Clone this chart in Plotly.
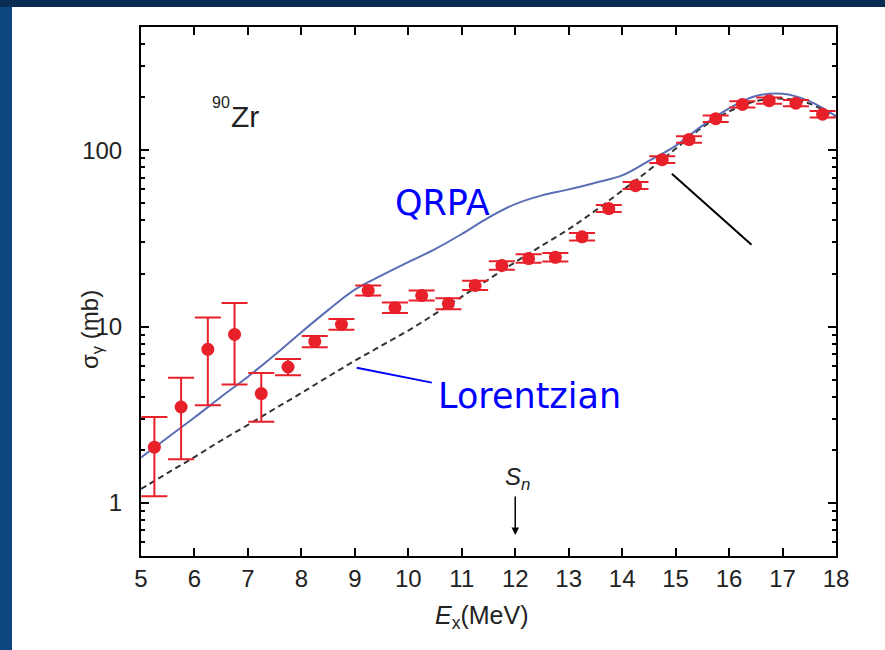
import plotly.graph_objects as go

# ---- data ----
x_exp = [5.25, 5.75, 6.25, 6.75, 7.25, 7.75, 8.25, 8.75, 9.25, 9.75, 10.25, 10.75, 11.25,
         11.75, 12.25, 12.75, 13.25, 13.75, 14.25, 14.75, 15.25, 15.75, 16.25, 16.75, 17.25, 17.75]
y_exp = [2.07, 3.50, 7.43, 9.03, 4.17, 5.90, 8.24, 10.3, 16.0, 12.8, 15.0, 13.5, 17.1,
         22.2, 24.3, 24.7, 32.3, 46.7, 63.0, 88.4, 115, 151, 182, 191, 185, 160]
err_up = [1.00, 1.63, 3.84, 4.57, 1.28, 0.64, 0.60, 0.75, 1.1, 0.9, 1.0, 1.0, 1.1,
          1.3, 1.4, 1.4, 1.6, 2.2, 3.0, 4.0, 5.0, 6.5, 7.5, 8.0, 7.8, 6.8]
err_dn = [0.98, 1.73, 3.85, 4.34, 1.28, 0.61, 0.60, 0.70, 1.0, 0.85, 0.95, 0.95, 1.0,
          1.2, 1.3, 1.3, 1.5, 2.1, 2.8, 3.8, 4.8, 6.2, 7.2, 7.6, 7.4, 6.5]

x_qrpa = [5.0, 5.5, 6.0, 6.5, 7.0, 7.5, 8.0, 8.5, 9.0, 9.5, 10.0, 10.5, 11.0, 11.5, 12.0,
          12.5, 13.0, 13.5, 14.0, 14.5, 15.0, 15.5, 16.0, 16.5, 17.0, 17.5, 18.0]
y_qrpa = [1.81, 2.35, 3.05, 4.0, 5.2, 6.9, 9.3, 12.4, 16.2, 19.5, 23.2, 27.5, 33.5, 41.5, 49.5,
          55.5, 60.0, 65.5, 72.0, 87.0, 106, 138, 173, 203, 209, 190, 156]

x_lor = [5.0, 5.5, 6.0, 6.5, 7.0, 7.5, 8.0, 8.5, 9.0, 9.5, 10.0, 10.5, 11.0, 11.5, 12.0,
         12.5, 13.0, 13.5, 14.0, 14.5, 15.0, 15.5, 16.0, 16.5, 17.0, 17.5, 18.0]
y_lor = [1.2, 1.48, 1.82, 2.26, 2.77, 3.42, 4.2, 5.2, 6.4, 7.8, 9.5, 11.8, 14.8, 18.5, 23.2,
         28.8, 35.7, 45.5, 59.0, 77.0, 102, 135, 166, 190, 196, 184, 155]

# pointer lines (data coordinates)
lor_ptr_x = [9.035, 10.44]
lor_ptr_y = [5.85, 4.81]
blk_ptr_x = [14.93, 16.42]
blk_ptr_y = [73.5, 29.1]

x_ticks = list(range(5, 19))
y_ticks = [1, 10, 100]
y_ticktext = ["1", "10", "100"]
y_minor = [0.6, 0.7, 0.8, 0.9, 2, 3, 4, 5, 6, 7, 8, 9, 20, 30, 40, 50, 60, 70, 80, 90, 200, 300, 400]

RED = "#e8202a"
QRPA_C = "#5a6db5"
TXT = "#222222"
BLUE = "#0000ff"

fig = go.Figure()

fig.add_trace(go.Scatter(x=x_lor, y=y_lor, mode="lines", line=dict(color="#333333", width=2, dash="6px,4px"),
                         line_shape="spline", showlegend=False, hoverinfo="skip"))
fig.add_trace(go.Scatter(x=x_qrpa, y=y_qrpa, mode="lines", line=dict(color=QRPA_C, width=2),
                         line_shape="spline", showlegend=False, hoverinfo="skip"))
fig.add_trace(go.Scatter(x=x_exp, y=y_exp, mode="markers",
                         marker=dict(color=RED, size=13),
                         error_y=dict(type="data", array=err_up, arrayminus=err_dn, symmetric=False,
                                      color=RED, thickness=2, width=13),
                         showlegend=False))
fig.add_trace(go.Scatter(x=lor_ptr_x, y=lor_ptr_y, mode="lines", line=dict(color=BLUE, width=2),
                         showlegend=False, hoverinfo="skip"))
fig.add_trace(go.Scatter(x=blk_ptr_x, y=blk_ptr_y, mode="lines", line=dict(color="black", width=2),
                         showlegend=False, hoverinfo="skip"))

L, R, T, B = 141, 836, 27, 556
W, H = 885, 650


def px(xp):
    return (xp - L) / (R - L)


def py(yp):
    return (B - yp) / (B - T)


shapes = [
    dict(type="rect", xref="paper", yref="paper", x0=px(0), x1=px(W), y0=py(H), y1=py(0),
         fillcolor="#0c4580", line=dict(width=0), layer="below"),
    dict(type="rect", xref="paper", yref="paper", x0=px(0), x1=px(W), y0=py(7), y1=py(0),
         fillcolor="#082c52", line=dict(width=0), layer="below"),
    dict(type="rect", xref="paper", yref="paper", x0=px(12), x1=px(W), y0=py(H), y1=py(7),
         fillcolor="white", line=dict(width=0), layer="below"),
]


def ann(text, x, y, size, color=TXT, family="Liberation Sans, Arial", **kw):
    d = dict(text=text, x=px(x), y=py(y), xref="paper", yref="paper", showarrow=False,
             xanchor="center", yanchor="middle", font=dict(family=family, size=size, color=color))
    d.update(kw)
    return d


annotations = [
    ann("Zr", 245, 116, 30),
    ann("90", 221, 102, 16),
    ann("QRPA", 442, 203, 35, color=BLUE, family="DejaVu Sans"),
    ann("Lorentzian", 529, 396, 35, color=BLUE, family="DejaVu Sans"),
    ann("<i>S</i><sub><i>n</i></sub>", 517, 478, 24),
    dict(text="", x=12, y=py(535), xref="x", yref="paper", showarrow=True, ax=0, ay=-40,
         arrowhead=2, arrowsize=1, arrowwidth=1.5, arrowcolor="black"),
    ann("σ<sub>γ</sub> (mb)", 92, 330, 24, textangle=-90),
    ann("<i>E</i><sub>x</sub>(MeV)", 482, 617, 25),
]

fig.update_layout(
    width=W, height=H,
    margin=dict(l=L, r=W - R, t=T, b=H - B, pad=0),
    paper_bgcolor="#0c4580",
    plot_bgcolor="white",
    shapes=shapes,
    annotations=annotations,
    xaxis=dict(range=[5, 18], tickvals=x_ticks, ticks="inside", ticklen=8, tickwidth=2,
               tickcolor="black", showline=True, linecolor="black", linewidth=2, mirror="ticks",
               showgrid=False, zeroline=False, ticklabelstandoff=0,
               tickfont=dict(family="Liberation Sans, Arial", size=24, color=TXT)),
    yaxis=dict(type="log", range=[-0.301, 2.699], tickvals=y_ticks, ticktext=y_ticktext,
               ticks="inside", ticklen=8, tickwidth=2, tickcolor="black", showline=True,
               linecolor="black", linewidth=2, mirror="ticks", showgrid=False, zeroline=False,
               ticklabelstandoff=12,
               minor=dict(tickmode="array", tickvals=y_minor, ticks="inside", ticklen=4,
                          tickwidth=1.5, tickcolor="black", showgrid=False),
               tickfont=dict(family="Liberation Sans, Arial", size=24, color=TXT)),
)

fig.write_html("out.html")
